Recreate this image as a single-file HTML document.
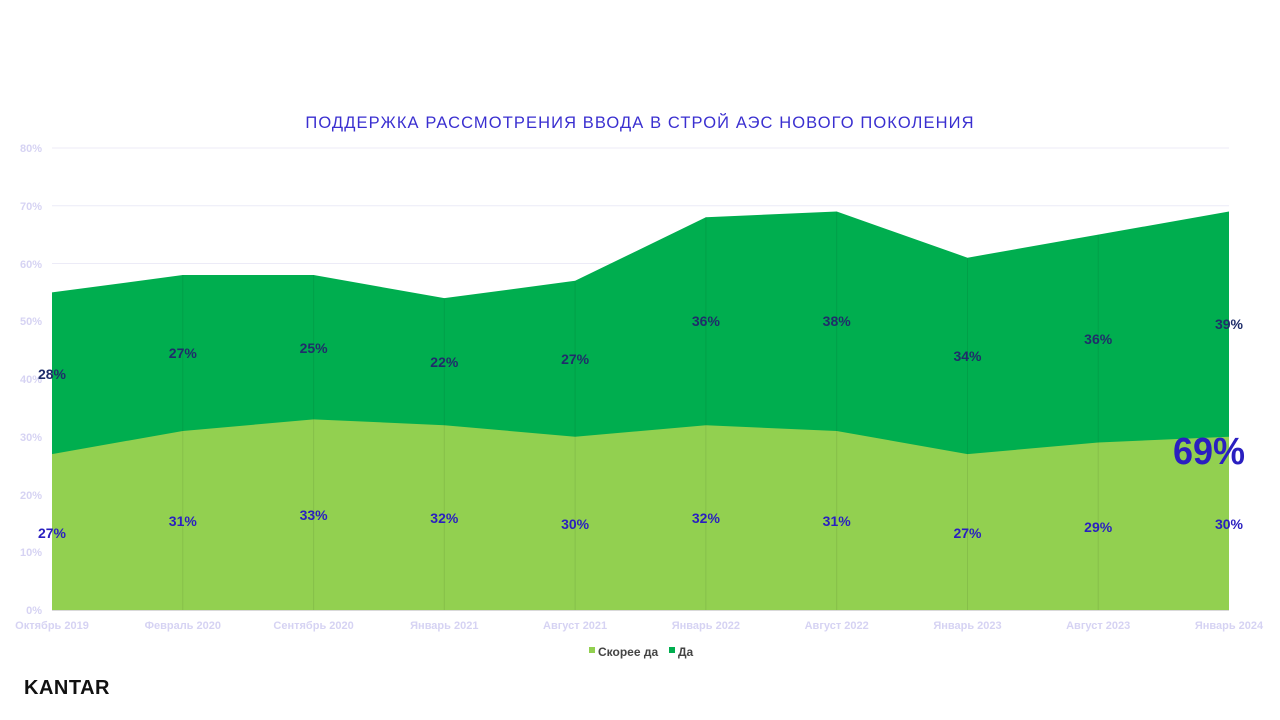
<!DOCTYPE html>
<html><head><meta charset="utf-8"><style>
body{margin:0;width:1280px;height:720px;background:#fff;overflow:hidden}
svg{display:block}
</style></head><body>
<svg width="1280" height="720" xmlns="http://www.w3.org/2000/svg" font-family="'Liberation Sans', 'DejaVu Sans', sans-serif">
<text x="640" y="128" text-anchor="middle" font-size="16.5" fill="#3a2fd0" letter-spacing="1.1">ПОДДЕРЖКА РАССМОТРЕНИЯ ВВОДА В СТРОЙ АЭС НОВОГО ПОКОЛЕНИЯ</text>
<g stroke="#ecebf7" stroke-width="1">
<line x1="52" x2="1229" y1="148" y2="148"/><line x1="52" x2="1229" y1="205.75" y2="205.75"/>
<line x1="52" x2="1229" y1="263.5" y2="263.5"/><line x1="52" x2="1229" y1="321.25" y2="321.25"/>
<line x1="52" x2="1229" y1="379" y2="379"/><line x1="52" x2="1229" y1="436.75" y2="436.75"/>
<line x1="52" x2="1229" y1="494.5" y2="494.5"/><line x1="52" x2="1229" y1="552.25" y2="552.25"/>
</g>
<g font-size="11" font-weight="bold" fill="#d6d3f3" text-anchor="end">
<text x="42" y="152">80%</text><text x="42" y="210">70%</text><text x="42" y="268">60%</text><text x="42" y="325">50%</text><text x="42" y="383">40%</text><text x="42" y="441">30%</text><text x="42" y="499">20%</text><text x="42" y="556">10%</text><text x="42" y="614">0%</text>
</g>
<polygon fill="#00ae4f" points="52,610 52,292.4 182.8,275.05 313.6,275.05 444.3,298.15 575.1,280.8 705.9,217.3 836.7,211.5 967.5,257.7 1098.2,234.6 1229,211.5 1229,610"/>
<polygon fill="#92d050" points="52,610 52,454.1 182.8,431 313.6,419.4 444.3,425.2 575.1,436.75 705.9,425.2 836.7,431 967.5,454.1 1098.2,442.5 1229,436.75 1229,610"/>
<g stroke="#000" stroke-opacity="0.08" stroke-width="1">
<line x1="182.8" x2="182.8" y1="275" y2="610"/><line x1="313.6" x2="313.6" y1="275" y2="610"/><line x1="444.3" x2="444.3" y1="298" y2="610"/><line x1="575.1" x2="575.1" y1="281" y2="610"/><line x1="705.9" x2="705.9" y1="217" y2="610"/><line x1="836.7" x2="836.7" y1="212" y2="610"/><line x1="967.5" x2="967.5" y1="258" y2="610"/><line x1="1098.2" x2="1098.2" y1="235" y2="610"/>
</g>
<line x1="52" x2="1229" y1="610.5" y2="610.5" stroke="#d9d9d9"/>
<g font-size="14" font-weight="bold" fill="#1f2d6a" text-anchor="middle">
<text x="52" y="379">28%</text><text x="182.8" y="358">27%</text><text x="313.6" y="353">25%</text><text x="444.3" y="367">22%</text><text x="575.1" y="364">27%</text><text x="705.9" y="326">36%</text><text x="836.7" y="326">38%</text><text x="967.5" y="361">34%</text><text x="1098.2" y="344">36%</text><text x="1229" y="329">39%</text>
</g>
<g font-size="14" font-weight="bold" fill="#2a1fc0" text-anchor="middle">
<text x="52" y="538">27%</text><text x="182.8" y="526">31%</text><text x="313.6" y="520">33%</text><text x="444.3" y="523">32%</text><text x="575.1" y="529">30%</text><text x="705.9" y="523">32%</text><text x="836.7" y="526">31%</text><text x="967.5" y="538">27%</text><text x="1098.2" y="532">29%</text><text x="1229" y="529">30%</text>
</g>
<text x="1209" y="464" text-anchor="middle" font-size="38" font-weight="bold" fill="#2a1fc0" textLength="72" lengthAdjust="spacingAndGlyphs">69%</text>
<g font-size="11" font-weight="bold" fill="#d6d3f3" text-anchor="middle">
<text x="52" y="629">Октябрь 2019</text><text x="182.8" y="629">Февраль 2020</text><text x="313.6" y="629">Сентябрь 2020</text><text x="444.3" y="629">Январь 2021</text><text x="575.1" y="629">Август 2021</text><text x="705.9" y="629">Январь 2022</text><text x="836.7" y="629">Август 2022</text><text x="967.5" y="629">Январь 2023</text><text x="1098.2" y="629">Август 2023</text><text x="1229" y="629">Январь 2024</text>
</g>
<rect x="589" y="647" width="6" height="6" fill="#92d050"/>
<text x="598" y="656" font-size="12" font-weight="bold" fill="#444">Скорее да</text>
<rect x="669" y="647" width="6" height="6" fill="#00ae4f"/>
<text x="678" y="656" font-size="12" font-weight="bold" fill="#444">Да</text>
<text x="24" y="694" font-size="20" font-weight="bold" fill="#111" letter-spacing="0.5">KANTAR</text>
</svg>
</body></html>
